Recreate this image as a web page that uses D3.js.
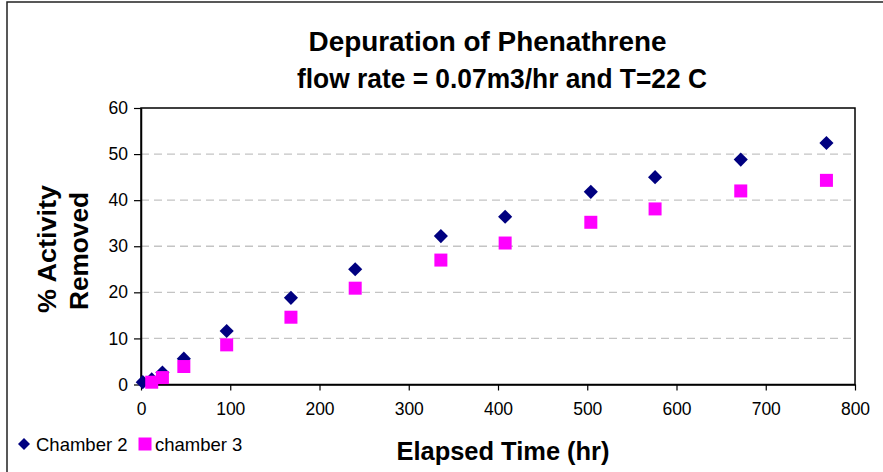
<!DOCTYPE html>
<html>
<head>
<meta charset="utf-8">
<script src="https://cdn.jsdelivr.net/npm/d3@7"></script>
<style>
  html, body { margin: 0; padding: 0; background: #fff; }
  svg { display: block; font-family: "Liberation Sans", Arial, sans-serif; }
</style>
</head>
<body>
<svg id="chart" width="883" height="472"></svg>
<script>
// ---- data ----
const titleLines = ["Depuration of Phenathrene", "flow rate = 0.07m3/hr and T=22 C"];
const xTitle = "Elapsed Time (hr)";
const yTitleLines = ["% Activity", "Removed"];
const seriesNames = ["Chamber 2", "chamber 3"];
const chamber2Hours = [2, 12, 24, 48, 96, 168, 240, 336, 408, 504, 576, 672, 768];
const chamber2Values = [0.5, 1.1, 2.6, 5.6, 11.6, 18.8, 25.0, 32.2, 36.4, 41.8, 45.0, 48.8, 52.4];
const chamber3Hours = [12, 24, 48, 96, 168, 240, 336, 408, 504, 576, 672, 768];
const chamber3Values = [0.5, 1.5, 3.9, 8.6, 14.6, 20.9, 27.0, 30.7, 35.2, 38.1, 42.0, 44.3];
const xTicks = [0, 100, 200, 300, 400, 500, 600, 700, 800];
const yTicks = [0, 10, 20, 30, 40, 50, 60];

// ---- layout ----
const svg = d3.select("#chart");
const L = 141, R = 855, T = 108, B = 384.5;
const x = d3.scaleLinear().domain([0, 800]).range([L, R]);
const y = d3.scaleLinear().domain([0, 60]).range([B, T]);

// outer chart border (partially cropped)
svg.append("rect").attr("x", 7).attr("y", 2).attr("width", 1000).attr("height", 1000)
  .attr("fill", "none").attr("stroke", "#222").attr("stroke-width", 1.5);

// gridlines
svg.append("g").selectAll("line").data(yTicks.filter(d => d > 0 && d < 60)).join("line")
  .attr("x1", L).attr("x2", R).attr("y1", d => y(d)).attr("y2", d => y(d))
  .attr("stroke", "#c4c4c4").attr("stroke-width", 1.4).attr("stroke-dasharray", "8,5");

// plot frame
svg.append("rect").attr("x", L).attr("y", T).attr("width", R - L).attr("height", B - T)
  .attr("fill", "none").attr("stroke", "#000").attr("stroke-width", 1.5);

// axes
const xAxis = svg.append("g").attr("transform", `translate(0,${B})`)
  .call(d3.axisBottom(x).tickValues(xTicks).tickSize(6).tickPadding(12).tickSizeOuter(0));
const yAxis = svg.append("g").attr("transform", `translate(${L},0)`)
  .call(d3.axisLeft(y).tickValues(yTicks).tickSize(7).tickPadding(6).tickSizeOuter(0));
[xAxis, yAxis].forEach(a => {
  a.select(".domain").attr("stroke", "#000").attr("stroke-width", 1.5);
  a.selectAll(".tick line").attr("stroke", "#000").attr("stroke-width", 1.2);
  a.selectAll(".tick text").attr("font-size", 17.5).attr("fill", "#000")
    .attr("font-family", "Liberation Sans, Arial, sans-serif");
});

// points
const diamond = d3.symbol().type(d3.symbolSquare).size(100);
const square = d3.symbol().type(d3.symbolSquare).size(169);
svg.append("g").selectAll("path").data(chamber2Hours.map((h, i) => [h, chamber2Values[i]])).join("path")
  .attr("d", diamond)
  .attr("transform", d => `translate(${x(d[0])},${y(d[1])}) rotate(45)`)
  .attr("fill", "#000080");
svg.append("g").selectAll("path").data(chamber3Hours.map((h, i) => [h, chamber3Values[i]])).join("path")
  .attr("d", square)
  .attr("transform", d => `translate(${x(d[0])},${y(d[1])})`)
  .attr("fill", "#ff00ff");

// title
const titlePos = [{cx: 487.5, by: 51, len: 358}, {cx: 502, by: 87.5, len: 410}];
svg.append("g").selectAll("text").data(titleLines).join("text")
  .attr("x", (d, i) => titlePos[i].cx).attr("y", (d, i) => titlePos[i].by)
  .attr("text-anchor", "middle").attr("font-weight", "bold").attr("font-size", 27)
  .attr("textLength", (d, i) => titlePos[i].len).attr("lengthAdjust", "spacingAndGlyphs")
  .text(d => d);

// x title
svg.append("text").attr("x", 503).attr("y", 460).attr("text-anchor", "middle")
  .attr("font-weight", "bold").attr("font-size", 25.5)
  .attr("textLength", 213).attr("lengthAdjust", "spacingAndGlyphs").text(xTitle);

// y title
const yPos = [{bx: 56, cy: 249, len: 128}, {bx: 88, cy: 251, len: 118}];
svg.append("g").selectAll("text").data(yTitleLines).join("text")
  .attr("transform", (d, i) => `translate(${yPos[i].bx},${yPos[i].cy}) rotate(-90)`)
  .attr("text-anchor", "middle").attr("font-weight", "bold").attr("font-size", 26)
  .attr("textLength", (d, i) => yPos[i].len).attr("lengthAdjust", "spacingAndGlyphs")
  .text(d => d);

// legend
const leg = svg.append("g");
leg.append("path").attr("d", d3.symbol().type(d3.symbolSquare).size(72))
  .attr("transform", "translate(24,444) rotate(45)").attr("fill", "#000080");
leg.append("text").attr("x", 36).attr("y", 450.5).attr("font-size", 18.5).text(seriesNames[0]);
leg.append("path").attr("d", d3.symbol().type(d3.symbolSquare).size(169))
  .attr("transform", "translate(145,444)").attr("fill", "#ff00ff");
leg.append("text").attr("x", 155).attr("y", 450.5).attr("font-size", 18.5).text(seriesNames[1]);
</script>
</body>
</html>
